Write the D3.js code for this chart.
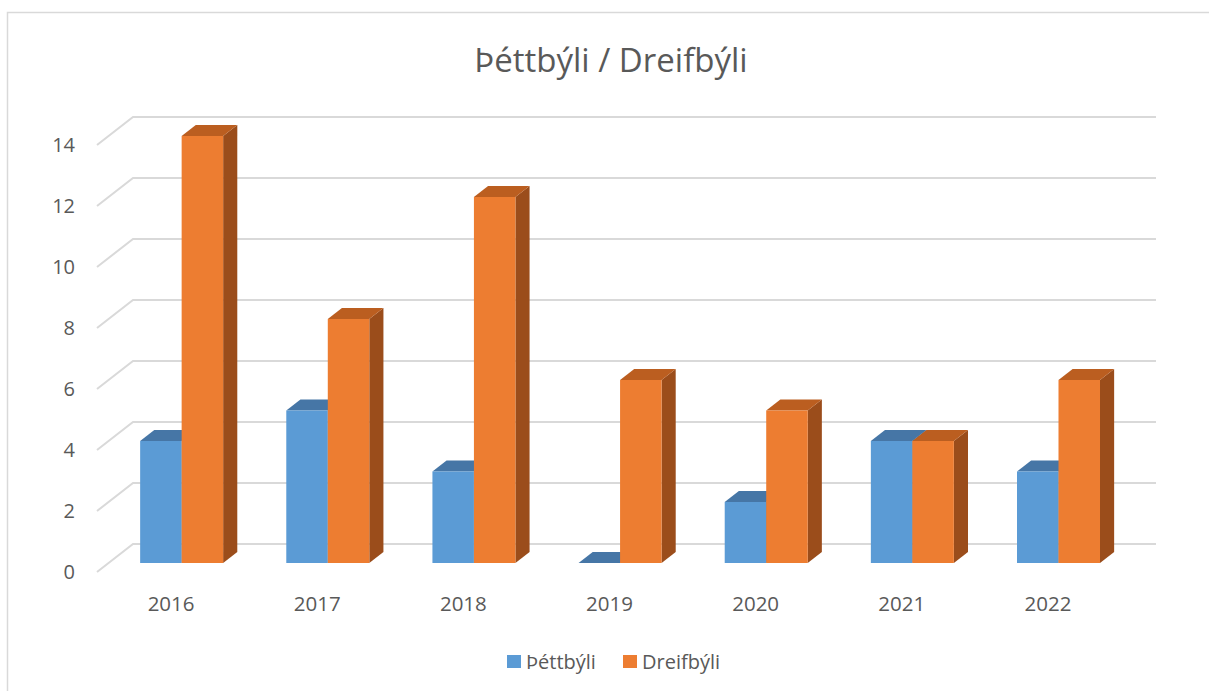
<!DOCTYPE html>
<html><head><meta charset="utf-8">
<script src="https://cdn.jsdelivr.net/npm/d3@7"></script>
<style>body{margin:0;background:#fff;} svg{display:block;font-family:"Open Sans",sans-serif;}</style>
</head><body>
<script>
const years = ["2016","2017","2018","2019","2020","2021","2022"];
const thettbyli = [4,5,3,0,2,4,3];
const dreifbyli = [14,8,12,6,5,4,6];
const yTicks = [0,2,4,6,8,10,12,14];
const seriesNames = ["Þéttbýli","Dreifbýli"];
const title = "Þéttbýli / Dreifbýli";

const W = 1209, H = 691;
const svg = d3.select("body").append("svg").attr("width", W).attr("height", H);
svg.append("rect").attr("x",7.5).attr("y",12.5).attr("width",1230).attr("height",700)
  .attr("fill","#fff").attr("stroke","#d9d9d9").attr("stroke-width",1.5);

const depthX = 36, depthY = -28;
const x = d3.scaleBand().domain(years).range([97, 1120]);
const y = d3.scaleLinear().domain([0,14]).range([572, 145]);

// gridlines
const g = svg.append("g").attr("stroke","#d9d9d9").attr("stroke-width",2).attr("fill","none");
yTicks.forEach(t => {
  const yf = y(t);
  g.append("path").attr("d", `M${x.range()[0]},${yf} L${x.range()[0]+depthX},${yf+depthY} L${x.range()[1]+depthX},${yf+depthY}`);
});
// y labels
svg.append("g").selectAll("text").data(yTicks).join("text")
  .attr("x", 75).attr("y", d => y(d)).attr("dy","0.36em").attr("text-anchor","end")
  .attr("font-size", 20).attr("fill","#595959").text(d => d);

// bars
const t1 = 9/28, t2 = 20/28;
const pairW = 83, bw = pairW/2;
const colors = [
  {front:"#5b9bd5", top:"#4676a6", side:"#3d6891"},
  {front:"#ed7d31", top:"#bb5e20", side:"#9b4d1b"}
];
const series = [thettbyli, dreifbyli];
const bars = svg.append("g");
years.forEach((yr, i) => {
  series.forEach((vals, s) => {
    const v = vals[i];
    const x0 = x(yr) + x.bandwidth()/2 - pairW/2 + s*bw + depthX*t1;
    const x1 = x0 + bw;
    const yb = y(0) + depthY*t1;
    const yt = y(v) + depthY*t1;
    const ddx = depthX*(t2-t1), ddy = depthY*(t2-t1);
    const c = colors[s];
    bars.append("path").attr("fill", c.side)
      .attr("d", `M${x1},${yt} L${x1+ddx},${yt+ddy} L${x1+ddx},${yb+ddy} L${x1},${yb} Z`);
    bars.append("path").attr("fill", c.top)
      .attr("d", `M${x0},${yt} L${x0+ddx},${yt+ddy} L${x1+ddx},${yt+ddy} L${x1},${yt} Z`);
    if (v > 0) bars.append("rect").attr("fill", c.front)
      .attr("x", x0).attr("y", yt).attr("width", bw).attr("height", yb - yt);
  });
});

// category labels
svg.append("g").selectAll("text").data(years).join("text")
  .attr("x", d => x(d) + x.bandwidth()/2 + 1).attr("y", 604).attr("dy","0.36em")
  .attr("text-anchor","middle").attr("font-size",20.5).attr("fill","#595959").text(d => d);

// title
svg.append("text").attr("x", 611).attr("y", 60).attr("dy","0.36em").attr("text-anchor","middle")
  .attr("font-size", 33).attr("fill","#595959").text(title);

// legend
const legX = [507, 623];
seriesNames.forEach((n, s) => {
  svg.append("rect").attr("x", legX[s]).attr("y", 655).attr("width", 14).attr("height", 13).attr("fill", colors[s].front);
  svg.append("text").attr("x", legX[s]+19).attr("y", 662).attr("dy","0.36em")
    .attr("font-size", 20).attr("fill","#595959").text(n);
});
</script>
</body></html>
